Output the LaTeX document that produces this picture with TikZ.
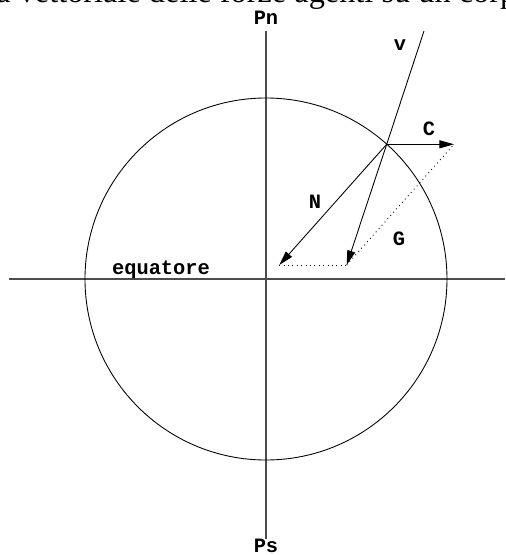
\documentclass[tikz,border=0pt]{standalone}
\usepackage{fontspec}
\newfontfamily\lblfont{Liberation Mono}
\newfontfamily\capfont{Liberation Serif}
\usetikzlibrary{arrows.meta}

\begin{document}
\begin{tikzpicture}[
  axis/.style={black!70,line width=0.6pt},
  vec/.style={-{Triangle[length=0.29cm,width=0.16cm]},line width=0.5pt},
  aux/.style={dotted,line width=0.5pt},
  lbl/.style={font=\lblfont\bfseries\fontsize{11.6}{13}\selectfont,inner sep=0pt}
]
\useasboundingbox (-5.32,-5.52) rectangle (4.80,5.58);
\clip (-5.32,-5.52) rectangle (4.80,5.58);

% caption line, cut off at the top
\node[font=\capfont\fontsize{18.4}{20}\selectfont,anchor=base west,inner sep=0pt]
  (caption) at (-5.40,5.53) {a vettoriale delle forze agenti su un corpo};

% axes and globe
\coordinate (o)  at (0,0);
\coordinate (ax-n) at (0,4.96);
\coordinate (ax-s) at (0,-5.20);
\coordinate (ax-w) at (-5.14,0);
\coordinate (ax-e) at (4.78,0);
\draw[axis] (ax-n) -- (ax-s);
\draw[axis] (ax-w) -- (ax-e);
\draw[line width=0.5pt] (o) circle (3.62);

\node[lbl] (pn)  at (0,5.22)    {Pn};
\node[lbl] (ps)  at (0,-5.34)   {Ps};
\node[lbl] (equ) at (-2.10,0.18) {equatore};

% forces on the body
\coordinate (p)    at (2.414,2.694);
\coordinate (vtop) at (3.16,4.96);
\coordinate (ntip) at (0.266,0.28);
\coordinate (gtip) at (1.614,0.28);
\coordinate (ctip) at (3.76,2.694);

\draw[line width=0.5pt] (p) -- (vtop);
\draw[vec] (p) -- (ntip);
\draw[vec] (p) -- (gtip);
\draw[vec] (p) -- (ctip);
\draw[aux] (ntip) -- (gtip);
\draw[aux] (gtip) -- (ctip);

\node[lbl] (v)  at (2.68,4.68) {v};
\node[lbl] (c)  at (3.26,3.00) {C};
\node[lbl] (n)  at (0.98,1.54) {N};
\node[lbl] (g)  at (2.66,0.80) {G};
\end{tikzpicture}
\end{document}
